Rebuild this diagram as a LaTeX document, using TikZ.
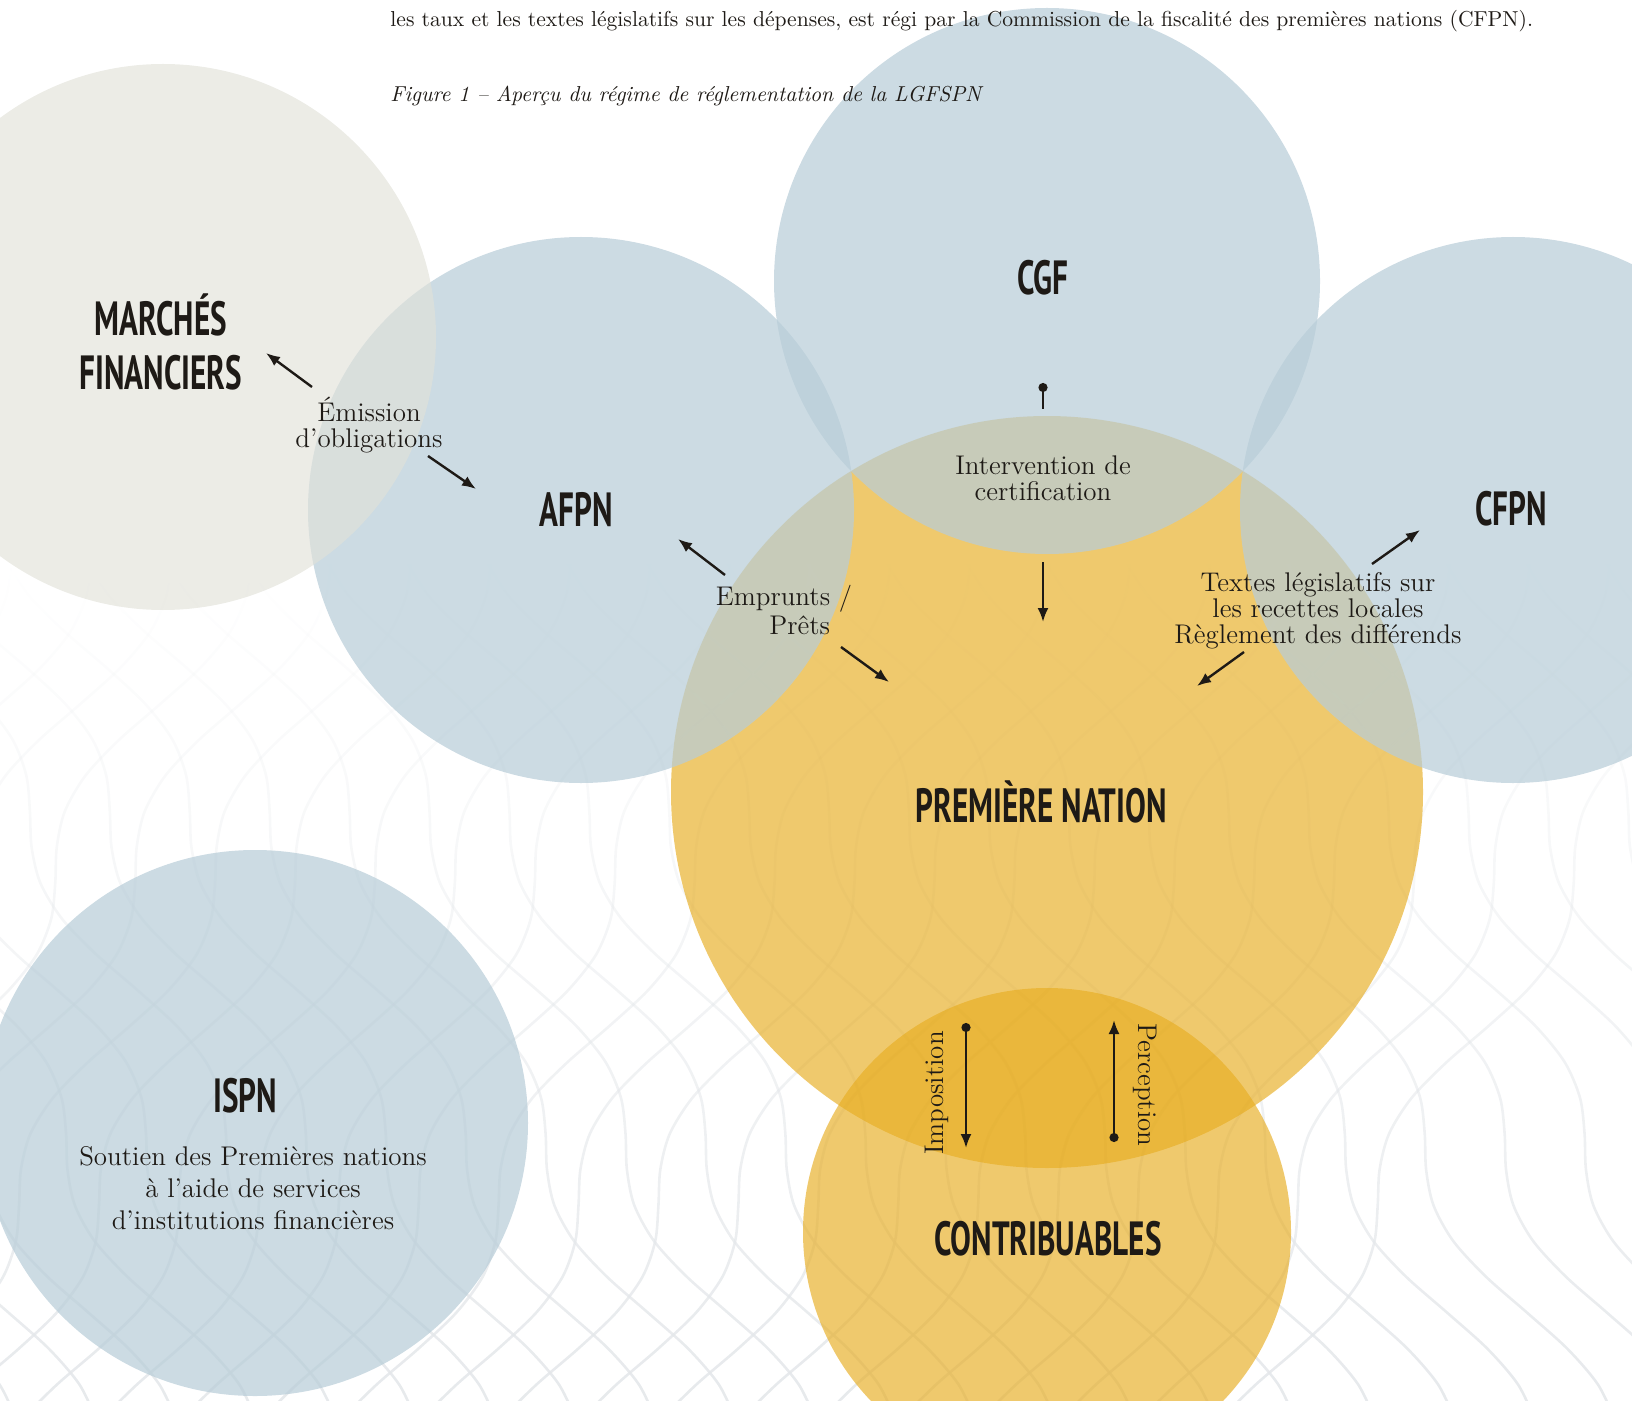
\documentclass[tikz,border=0pt]{standalone}
\usepackage{fontspec}
\newfontfamily\headfont[FakeStretch=0.65]{PT Sans}
\usetikzlibrary{arrows.meta,fadings}

\definecolor{bluefill}{RGB}{184,205,216}
\definecolor{goldfill}{RGB}{231,173,34}
\definecolor{greyfill}{RGB}{225,225,216}
\definecolor{meshgray}{RGB}{228,231,234}
\definecolor{inkdark}{RGB}{30,26,22}
\tikzfading[name=netfade,top color=transparent!100,bottom color=transparent!10]

\begin{document}
\begin{tikzpicture}[x=0.5pt,y=-0.5pt,
  bluecirc/.style={fill=bluefill,fill opacity=0.72},
  goldcirc/.style={fill=goldfill,fill opacity=0.66},
  greycirc/.style={fill=greyfill,fill opacity=0.64},
  head/.style={font=\headfont\bfseries\fontsize{24}{27}\selectfont,text=inkdark,align=center,inner sep=0pt},
  lbl/.style={font=\fontsize{13.5}{13}\selectfont,text=inkdark,align=center,inner sep=0pt},
  arr/.style={-{Latex[length=7pt,width=5.5pt]},line width=1.2pt,draw=inkdark},
  pinarr/.style={{Circle[length=4.5pt]}-{Latex[length=7pt,width=5.5pt]},line width=1.2pt,draw=inkdark},
  mesh/.style={draw=meshgray,line width=1.3pt}]
\useasboundingbox (0,0) rectangle (1632,1401);
\clip (0,0) rectangle (1632,1401);

% background net, fading out towards the top
\begin{scope}
  \path[scope fading=netfade] (0,560) rectangle (1632,1401);
  \foreach \k in {-16,...,30}{
    \draw[mesh] plot[smooth,domain=560:1420,samples=25,variable=\t] ({-700+\k*80+0.6*\t+30*sin(1.1*\t)},\t);
    \draw[mesh] plot[smooth,domain=560:1420,samples=25,variable=\t] ({-300+\k*80-0.6*\t+30*sin(1.1*\t+120)},\t);
  }
\end{scope}

% circles
\fill[goldcirc] (1047,792) circle (376);
\fill[goldcirc] (1047,1232) circle (244);
\fill[bluecirc] (581,510) circle (273);
\fill[bluecirc] (1047,281) circle (273);
\fill[bluecirc] (1513,510) circle (273);
\fill[bluecirc] (255,1123) circle (273);
\fill[greycirc] (163,337) circle (273);

% page text
\node[anchor=west,inner sep=0pt,text=inkdark,font=\fontsize{10.8}{12}\selectfont] (para) at (390,21)
  {les taux et les textes législatifs sur les dépenses, est régi par la Commission de la fiscalité des premières nations (CFPN).};
\node[anchor=west,inner sep=0pt,text=inkdark,font=\itshape\fontsize{10.8}{13}\selectfont] (caption) at (390,96)
  {Figure 1 -- Aperçu du régime de réglementation de la LGFSPN};

% bodies
\node[head] (marches) at (161,342) {MARCHÉS\\FINANCIERS};
\node[head] (afpn) at (576,510) {AFPN};
\node[head] (cgf) at (1043,278) {CGF};
\node[head] (cfpn) at (1511,509) {CFPN};
\node[head] (pn) at (1041,802) {PREMIÈRE NATION};
\node[head] (contrib) at (1048,1239) {CONTRIBUABLES};
\node[head] (ispn) at (245,1096) {ISPN};
\node[lbl,font=\fontsize{13.5}{16}\selectfont] (ispndesc) at (253,1188)
  {Soutien des Premières nations\\à l’aide de services\\d’institutions financières};

% flows
\node[lbl] (emission) at (369,425) {Émission\\d’obligations};
\node[lbl,align=right] (emprunts) at (784,613) {Emprunts /\\Prêts\phantom{\ /}};
\node[lbl] (certif) at (1043,478) {Intervention de\\certification};
\node[lbl] (textes) at (1318,611) {Textes législatifs sur\\les recettes locales\\Règlement des différends};
\node[lbl,rotate=90] (imposition) at (937,1093) {Imposition};
\node[lbl,rotate=-90] (perception) at (1145,1085) {Perception};

\coordinate (emA) at (312,387); \coordinate (emB) at (266,353);
\coordinate (emC) at (428,456); \coordinate (emD) at (476,489);
\coordinate (prA) at (725,575); \coordinate (prB) at (678,539);
\coordinate (prC) at (841,647); \coordinate (prD) at (889,682);
\coordinate (ceA) at (1043,383); \coordinate (ceB) at (1043,409);
\coordinate (ceC) at (1043,562); \coordinate (ceD) at (1043,622);
\coordinate (txA) at (1372,564); \coordinate (txB) at (1420,530);
\coordinate (txC) at (1244,652); \coordinate (txD) at (1197,686);
\coordinate (imA) at (966,1023); \coordinate (imB) at (966,1148);
\coordinate (peA) at (1114,1142); \coordinate (peB) at (1114,1020);

\draw[arr] (emA) -- (emB); \draw[arr] (emC) -- (emD);
\draw[arr] (prA) -- (prB); \draw[arr] (prC) -- (prD);
\draw[line width=1.2pt,draw=inkdark,{Circle[length=4.5pt]}-] (ceA) -- (ceB);
\draw[arr] (ceC) -- (ceD);
\draw[arr] (txA) -- (txB); \draw[arr] (txC) -- (txD);
\draw[pinarr] (imA) -- (imB); \draw[pinarr] (peA) -- (peB);
\end{tikzpicture}
\end{document}
